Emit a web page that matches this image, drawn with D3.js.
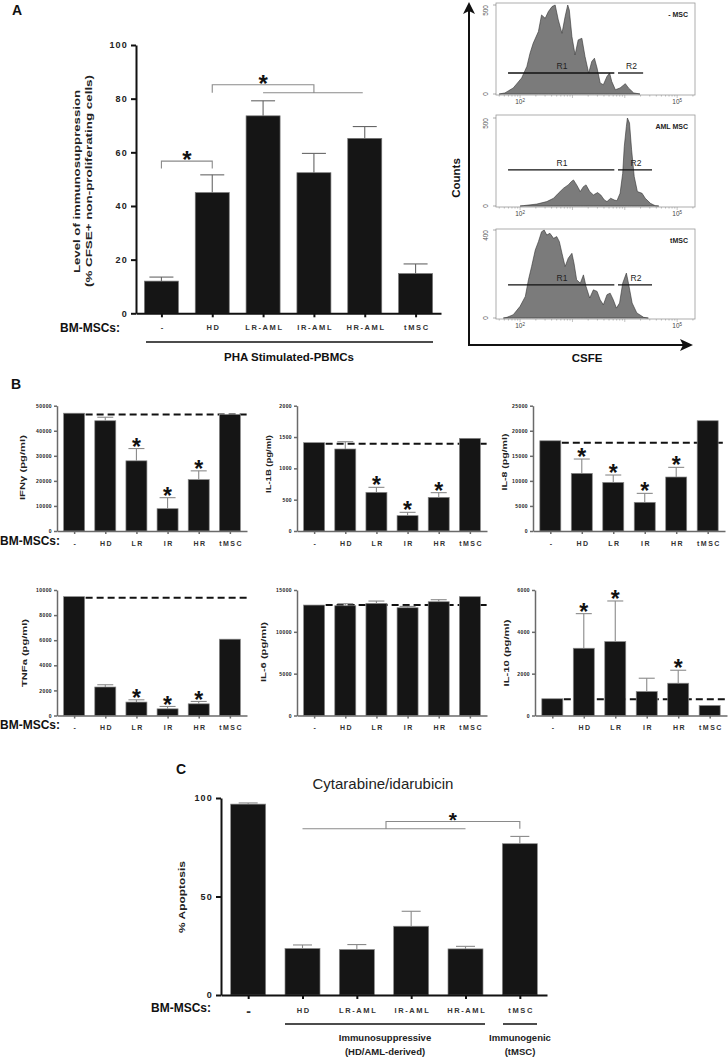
<!DOCTYPE html>
<html><head><meta charset="utf-8">
<script src="https://cdn.jsdelivr.net/npm/d3@7/dist/d3.min.js"></script>
<style>body{margin:0;background:#fff}svg{display:block}text{font-family:"Liberation Sans",Arial,sans-serif}</style>
</head><body>
<svg id="c" width="728" height="1057"></svg>
<script>
// ---------------- DATA ----------------
// Panel A
const catsA = ["-","HD","LR-AML","IR-AML","HR-AML","tMSC"];
const valsA = [12, 45, 73.6, 52.4, 65.2, 14.8];
const errA  = [13.5, 51.6, 79.2, 59.6, 69.6, 18.4];
const ticksA = [0,20,40,60,80,100];

// Flow histograms (log10 CSFE, counts)
const histNoMSC = [[1.60,0],[1.71,6],[1.87,34],[2.03,90],[2.13,155],[2.19,229],[2.25,285],[2.35,351],[2.41,444],[2.48,425],[2.54,463],[2.61,491],[2.67,500],[2.73,416],[2.80,341],[2.86,435],[2.91,500],[2.94,472],[2.99,323],[3.05,220],[3.11,304],[3.18,313],[3.24,211],[3.31,118],[3.37,183],[3.42,201],[3.47,146],[3.53,62],[3.59,52],[3.66,99],[3.71,118],[3.75,71],[3.82,24],[3.91,34],[4.01,58],[4.07,34],[4.17,6],[4.29,0]];
const histAML = [[2.0,0],[2.06,2],[2.32,11],[2.51,25],[2.64,44],[2.73,72],[2.83,101],[2.92,120],[2.98,139],[3.02,148],[3.08,120],[3.15,82],[3.21,110],[3.26,120],[3.33,82],[3.40,63],[3.48,76],[3.54,63],[3.61,34],[3.66,25],[3.73,44],[3.80,34],[3.85,30],[3.91,72],[3.96,186],[3.99,338],[4.03,452],[4.05,500],[4.09,471],[4.13,319],[4.18,167],[4.24,82],[4.33,72],[4.39,44],[4.49,15],[4.58,2],[4.65,0]];
const histTMSC = [[1.68,0],[1.75,3],[1.87,15],[2.00,53],[2.10,98],[2.16,174],[2.22,234],[2.29,309],[2.35,347],[2.41,392],[2.46,400],[2.51,377],[2.57,385],[2.64,362],[2.70,370],[2.75,347],[2.80,294],[2.86,234],[2.92,272],[2.99,294],[3.03,249],[3.08,174],[3.15,158],[3.21,196],[3.26,143],[3.33,91],[3.40,128],[3.47,121],[3.53,83],[3.59,60],[3.66,106],[3.72,113],[3.78,83],[3.84,45],[3.90,68],[3.96,158],[4.03,204],[4.07,158],[4.14,68],[4.23,23],[4.36,3],[4.45,0]];
const histNames = ["- MSC","AML MSC","tMSC"];
const histMax = [500, 500, 400];
const gateLevels = [118, 205, 151];
const gateR1 = [1.77, 3.80];
const gateR2 = [[3.87,4.35],[3.87,4.52],[3.87,4.52]];

// Panel B
const catsB = ["-","HD","LR","IR","HR","tMSC"];
const ifng    = [47000, 44000, 28000, 8900, 20500, 46500];
const ifngErr = [null, 45400, 32900, 13300, 24000, null];
const il1b    = [1410, 1309, 617, 245, 537, 1479];
const il1bErr = [null, 1425, 697, 298, 612, null];
const il8     = [18000, 11500, 9700, 5720, 10770, 22000];
const il8Err  = [null, 14360, 11170, 7510, 12700, null];
const tnfa    = [9470, 2270, 1070, 530, 930, 6080];
const tnfaErr = [null, 2450, 1250, 720, 1120, null];
const il6     = [13200, 13120, 13400, 12880, 13600, 14200];
const il6Err  = [null, 13360, 13680, 13040, 13840, null];
const il10    = [800, 3215, 3533, 1146, 1543, 477];
const il10Err = [null, 4870, 5475, 1782, 2164, null];
const refB = [46500, 1394, 17620, 9390, 13200, 780];
const starsB = [
  [0,0,1,1,1,0],[0,0,1,1,1,0],[0,1,1,1,1,0],
  [0,0,1,1,1,0],[0,0,0,0,0,0],[0,1,1,0,1,0]];
const ticksIFNg = [0,10000,20000,30000,40000,50000];
const ticksIL1b = [0,500,1000,1500,2000];
const ticksIL8  = [0,5000,10000,15000,20000,25000];
const ticksTNFa = [0,2000,4000,6000,8000,10000];
const ticksIL6  = [0,5000,10000,15000];
const ticksIL10 = [0,2000,4000,6000];

// Panel C
const catsC = ["-","HD","LR-AML","IR-AML","HR-AML","tMSC"];
const valsC = [96.9, 23.6, 23.1, 34.9, 23.4, 76.8];
const errC  = [97.5, 25.4, 25.6, 42.5, 24.7, 80.5];
const ticksC = [0,50,100];

// ---------------- DRAWING ----------------
const svg = d3.select("#c");
const F = '"Liberation Sans", Arial, sans-serif';

function txt(x, y, s, o = {}) {
  const t = svg.append("text").attr("x", x).attr("y", y).text(s)
    .attr("font-family", o.family || F).attr("font-size", o.size || 10)
    .attr("font-weight", o.weight || "bold").attr("fill", o.fill || "#111")
    .attr("text-anchor", o.anchor || "start");
  if (o.ls) t.attr("letter-spacing", o.ls);
  if (o.rot) t.attr("transform", `rotate(${o.rot},${x},${y})`);
  if (o.len) t.attr("textLength", o.len).attr("lengthAdjust", "spacingAndGlyphs");
  return t;
}
function star(x, cy, fs) {
  svg.append("text").attr("x", x).attr("y", cy + fs * 0.57).attr("text-anchor", "middle")
    .attr("font-size", fs).attr("font-weight", "bold").attr("font-family", F).attr("fill", "#111").text("*");
}

function barChart(cfg) {
  const g = svg.append("g");
  const x = d3.scalePoint().domain(cfg.cats).range([cfg.x0, cfg.x1]).padding(cfg.pad);
  const y = d3.scaleLinear().domain([0, cfg.ymax]).range([cfg.yBot, cfg.yTop]);
  if (cfg.ref != null) {
    g.append("line").attr("x1", x(cfg.cats[0]) + cfg.bw / 2 + 1).attr("x2", cfg.x1)
      .attr("y1", y(cfg.ref)).attr("y2", y(cfg.ref))
      .attr("stroke", "#111").attr("stroke-width", 2).attr("stroke-dasharray", "7,4");
  }
  g.selectAll("rect.bar").data(cfg.vals).join("rect").attr("class", "bar")
    .attr("x", (d, i) => x(cfg.cats[i]) - cfg.bw / 2).attr("width", cfg.bw)
    .attr("y", d => y(d)).attr("height", d => cfg.yBot - y(d))
    .attr("fill", "#151515").attr("stroke", cfg.barStroke || "#888").attr("stroke-width", 0.7);
  cfg.errs.forEach((e, i) => {
    if (e == null) return;
    const cx = x(cfg.cats[i]);
    g.append("line").attr("x1", cx).attr("x2", cx).attr("y1", y(cfg.vals[i])).attr("y2", y(e))
      .attr("stroke", cfg.errColor || "#888").attr("stroke-width", 1.1);
    g.append("line").attr("x1", cx - cfg.capW / 2).attr("x2", cx + cfg.capW / 2).attr("y1", y(e)).attr("y2", y(e))
      .attr("stroke", cfg.errColor || "#888").attr("stroke-width", 1.1);
  });
  if (cfg.stars) {
    cfg.stars.forEach((s, i) => {
      if (!s) return;
      const top = y(cfg.errs[i] != null ? cfg.errs[i] : cfg.vals[i]);
      star(x(cfg.cats[i]), top - cfg.starGap, cfg.starFs);
    });
  }
  const ya = g.append("g").attr("transform", `translate(${cfg.x0},0)`)
    .call(d3.axisLeft(y).tickValues(cfg.ticks).tickSize(cfg.tickLen).tickSizeOuter(0)
      .tickPadding(cfg.tickPad).tickFormat(d3.format("d")));
  ya.select(".domain").attr("stroke", cfg.axisColor).attr("stroke-width", cfg.axisW);
  ya.selectAll(".tick line").attr("stroke", cfg.axisColor).attr("stroke-width", cfg.axisW);
  ya.selectAll(".tick text").attr("font-family", F).attr("font-weight", "bold")
    .attr("font-size", cfg.tickFs).attr("letter-spacing", cfg.tickLs).attr("fill", "#222");
  const xa = g.append("g").attr("class", "xaxis").attr("transform", `translate(0,${cfg.yBot})`)
    .call(d3.axisBottom(x).tickSize(cfg.xTickLen).tickSizeOuter(0).tickPadding(cfg.xTickPad)
      .tickFormat((d, i) => cfg.labels ? cfg.labels[i] : d));
  xa.select(".domain").attr("stroke", cfg.axisColor).attr("stroke-width", cfg.axisW);
  xa.selectAll(".tick line").attr("stroke", cfg.axisColor).attr("stroke-width", cfg.axisW);
  xa.selectAll(".tick text").attr("font-family", F).attr("font-weight", "bold")
    .attr("font-size", cfg.xFs).attr("letter-spacing", cfg.xLs).attr("fill", "#333")
    .attr("dx", cfg.xLsNum / 2);
  if (cfg.ylabel) {
    txt(cfg.ylx, cfg.yly, cfg.ylabel, { size: cfg.ylFs, rot: -90, anchor: "middle", len: cfg.ylLen, fill: "#222" });
  }
  return { x, y, g, xa };
}

// Panel labels
txt(12, 15, "A", { size: 14 });
txt(11, 389, "B", { size: 14 });
txt(176, 774, "C", { size: 14 });

// ---- Panel A bar chart ----
const A = barChart({
  cats: catsA, vals: valsA, errs: errA, x0: 136, x1: 441, pad: 0.5,
  ymax: 100, yTop: 45, yBot: 313.3, bw: 34, capW: 24, errColor: "#666", barStroke: "#777",
  ticks: ticksA, tickLen: 5, tickPad: 3, tickFs: 9, tickLs: "1.2px", axisColor: "#111", axisW: 2,
  xTickLen: 4, xTickPad: 7, xFs: 7.5, xLs: "1.6px", xLsNum: 1.6
});
txt(80, 181.5, "Level of immunosuppression", { size: 9, rot: -90, anchor: "middle", len: 183, fill: "#222" });
txt(92, 181, "(% CFSE+ non-proliferating cells)", { size: 9, rot: -90, anchor: "middle", len: 212, fill: "#222" });
txt(60, 332, "BM-MSCs:", { size: 12 });
svg.append("line").attr("x1", 146).attr("x2", 433).attr("y1", 342).attr("y2", 342).attr("stroke", "#111").attr("stroke-width", 1.6);
txt(289, 361, "PHA Stimulated-PBMCs", { size: 11.5, anchor: "middle" });
(function () {
  const x = A.x, y = A.y, c = "#8a8a8a";
  const p = d3.path();
  p.moveTo(x("-"), y(54)); p.lineTo(x("-"), y(56.7)); p.lineTo(x("HD"), y(56.7)); p.lineTo(x("HD"), y(54));
  p.moveTo(x("HD"), y(82.2)); p.lineTo(x("HD"), y(85.2)); p.lineTo(x("IR-AML"), y(85.2)); p.lineTo(x("IR-AML"), y(82.2));
  p.moveTo(x("LR-AML"), y(82.2)); p.lineTo(x("HR-AML") - 2, y(82.2));
  svg.append("path").attr("d", p.toString()).attr("fill", "none").attr("stroke", c).attr("stroke-width", 1.1);
  star((x("-") + x("HD")) / 2, y(59.4), 24);
  star(x("LR-AML"), y(87.6), 24);
})();

// ---- Flow histograms ----
const flowX = d3.scaleLinear().domain([1.54, 5.36]).range([496, 696]);
const histBoxes = [[3, 95, 94, 5], [115, 207, 206, 118], [229, 319, 318, 230]]; // top,bottom,base,peak
[histNoMSC, histAML, histTMSC].forEach((pts, k) => {
  const [top, bot, base, peak] = histBoxes[k];
  const y = d3.scaleLinear().domain([0, histMax[k]]).range([base, peak]);
  const g = svg.append("g");
  g.append("rect").attr("x", 496).attr("y", top).attr("width", 199).attr("height", bot - top)
    .attr("fill", "none").attr("stroke", "#9a9a9a").attr("stroke-width", 0.8);
  const area = d3.area().x(d => flowX(d[0])).y0(y(0)).y1(d => y(d[1]));
  g.append("path").datum(pts).attr("d", area).attr("fill", "#7b7b7b").attr("stroke", "#333").attr("stroke-width", 0.6);
  [0, histMax[k]].forEach(v => {
    g.append("line").attr("x1", 493).attr("x2", 496).attr("y1", y(v)).attr("y2", y(v)).attr("stroke", "#777").attr("stroke-width", 0.6);
    g.append("text").attr("x", 488).attr("y", y(v)).attr("transform", `rotate(-90,488,${y(v)})`)
      .attr("text-anchor", v === 0 ? "middle" : "end").attr("font-size", 6.5).attr("fill", "#555")
      .attr("font-family", F).text(v);
  });
  const minors = [];
  for (let n = 1; n <= 5; n++) for (let m = 1; m <= 9; m++) { const v = n + Math.log10(m); if (v >= 1.56 && v <= 5.34) minors.push(v); }
  g.selectAll("line.mt").data(minors).join("line").attr("x1", d => flowX(d)).attr("x2", d => flowX(d))
    .attr("y1", bot).attr("y2", d => bot + (Math.abs(d - Math.round(d)) < 1e-9 ? 3 : 1.6)).attr("stroke", "#888").attr("stroke-width", 0.5);
  [2, 5].forEach(e => {
    const t = g.append("text").attr("x", flowX(e)).attr("y", bot + 9).attr("text-anchor", "middle")
      .attr("font-size", 6.5).attr("fill", "#444").attr("font-family", F);
    t.append("tspan").text("10");
    t.append("tspan").attr("dy", -2.5).attr("font-size", 4.5).text(e);
  });
  const gy = y(gateLevels[k]);
  g.append("line").attr("x1", flowX(gateR1[0])).attr("x2", flowX(gateR1[1])).attr("y1", gy).attr("y2", gy).attr("stroke", "#111").attr("stroke-width", 1.3);
  g.append("line").attr("x1", flowX(gateR2[k][0])).attr("x2", flowX(gateR2[k][1])).attr("y1", gy).attr("y2", gy).attr("stroke", "#111").attr("stroke-width", 1.3);
  g.append("text").attr("x", flowX(2.80)).attr("y", gy - 3.5).attr("text-anchor", "middle").attr("font-size", 8.5)
    .attr("font-family", '"Open Sans", sans-serif').attr("fill", "#222").text("R1");
  g.append("text").attr("x", (flowX(gateR2[k][0]) + flowX(gateR2[k][1])) / 2 + 1).attr("y", gy - 3.5).attr("text-anchor", "middle").attr("font-size", 8.5)
    .attr("font-family", '"Open Sans", sans-serif').attr("fill", "#222").text("R2");
  g.append("text").attr("x", 688).attr("y", top + 14).attr("text-anchor", "end").attr("font-size", 7)
    .attr("font-weight", "bold").attr("font-family", '"Open Sans", sans-serif').attr("fill", "#222").text(histNames[k]);
});
svg.append("line").attr("x1", 469).attr("x2", 469).attr("y1", 346).attr("y2", 10).attr("stroke", "#111").attr("stroke-width", 2);
svg.append("path").attr("d", "M469,2 L463,14 L469,11 L475,14 Z").attr("fill", "#111");
svg.append("line").attr("x1", 468).attr("x2", 684).attr("y1", 345).attr("y2", 345).attr("stroke", "#111").attr("stroke-width", 2);
svg.append("path").attr("d", "M693,345 L680,339 L683,345 L680,351 Z").attr("fill", "#111");
txt(460, 178, "Counts", { size: 11.5, rot: -90, anchor: "middle" });
txt(587, 362, "CSFE", { size: 11.5, anchor: "middle" });

// ---- Panel B ----
const bCommon = {
  cats: catsB, labels: catsB, pad: 0.55, bw: 21, capW: 16, barStroke: "#888", errColor: "#8a8a8a",
  tickLen: 3, tickPad: 2, tickFs: 5, tickLs: "0.4px", axisColor: "#6a6a6a", axisW: 1.5,
  xTickLen: 3, xTickPad: 7, xFs: 7, xLs: "1.5px", xLsNum: 1.5, starFs: 23, starGap: 7, ylFs: 7.5
};
const row1 = { yTop: 405.7, yBot: 531 }, row2 = { yTop: 590, yBot: 715.5 };
barChart(Object.assign({}, bCommon, row1, { vals: ifng, errs: ifngErr, ref: refB[0], stars: starsB[0], ymax: 50000, ticks: ticksIFNg, x0: 57, x1: 247, ylabel: "IFNγ (pg/ml)", ylx: 25, yly: 467.5, ylLen: 65 }));
barChart(Object.assign({}, bCommon, row1, { vals: il1b, errs: il1bErr, ref: refB[1], stars: starsB[1], ymax: 2000, ticks: ticksIL1b, x0: 297, x1: 487, ylabel: "IL-1B (pg/ml)", ylx: 271, yly: 464, ylLen: 58 }));
barChart(Object.assign({}, bCommon, row1, { vals: il8, errs: il8Err, ref: refB[2], stars: starsB[2], ymax: 25000, ticks: ticksIL8, x0: 533, x1: 725, ylabel: "IL-8 (pg/ml)", ylx: 507, yly: 462, ylLen: 57 }));
barChart(Object.assign({}, bCommon, row2, { vals: tnfa, errs: tnfaErr, ref: refB[3], stars: starsB[3], ymax: 10000, ticks: ticksTNFa, x0: 57, x1: 247, ylabel: "TNFa (pg/ml)", ylx: 27, yly: 653, ylLen: 68 }));
barChart(Object.assign({}, bCommon, row2, { vals: il6, errs: il6Err, ref: refB[4], stars: starsB[4], ymax: 15000, ticks: ticksIL6, x0: 297, x1: 487, ylabel: "IL-6 (pg/ml)", ylx: 266, yly: 652, ylLen: 60 }));
barChart(Object.assign({}, bCommon, row2, { vals: il10, errs: il10Err, ref: refB[5], stars: starsB[5], ymax: 6000, ticks: ticksIL10, x0: 535, x1: 727, ylabel: "IL-10 (pg/ml)", ylx: 509, yly: 653, ylLen: 67 }));
txt(0, 545, "BM-MSCs:", { size: 12 });
txt(0, 729, "BM-MSCs:", { size: 12 });

// ---- Panel C ----
txt(383, 789, "Cytarabine/idarubicin", { size: 15, weight: "normal", anchor: "middle", fill: "#222" });
const C = barChart({
  cats: catsC, labels: ["-","HD","LR-AML","IR-AML","HR-AML","tMSC"], vals: valsC, errs: errC, x0: 221, x1: 547, pad: 0.5,
  ymax: 100, yTop: 798, yBot: 995, bw: 35, capW: 19, barStroke: "#888", errColor: "#8a8a8a",
  ticks: ticksC, tickLen: 5, tickPad: 3, tickFs: 9, tickLs: "1.2px", axisColor: "#111", axisW: 2,
  xTickLen: 4, xTickPad: 9, xFs: 7.5, xLs: "1.6px", xLsNum: 1.6,
  ylabel: "% Apoptosis", ylx: 185, yly: 897, ylFs: 9.5, ylLen: 72
});
C.xa.selectAll(".tick text").filter((d, i) => i === 0).attr("font-size", 14).attr("dy", "0.55em");
txt(151, 1012, "BM-MSCs:", { size: 12 });
svg.append("line").attr("x1", 285).attr("x2", 485).attr("y1", 1024).attr("y2", 1024).attr("stroke", "#111").attr("stroke-width", 1.6);
svg.append("line").attr("x1", 503).attr("x2", 537).attr("y1", 1024).attr("y2", 1024).attr("stroke", "#111").attr("stroke-width", 1.6);
const OS = '"Open Sans", sans-serif';
txt(385, 1041, "Immunosuppressive", { size: 9.5, family: OS, anchor: "middle", fill: "#222" });
txt(385, 1055, "(HD/AML-derived)", { size: 9.5, family: OS, anchor: "middle", fill: "#222" });
txt(520, 1041, "Immunogenic", { size: 9.5, family: OS, anchor: "middle", fill: "#222" });
txt(520, 1055, "(tMSC)", { size: 9.5, family: OS, anchor: "middle", fill: "#222" });
(function () {
  const x = C.x, y = C.y, c = "#8a8a8a";
  const p = d3.path();
  p.moveTo(x("HD"), y(84.4)); p.lineTo(x("HR-AML"), y(84.4));
  const mid = (x("LR-AML") + x("IR-AML")) / 2 + 2;
  p.moveTo(mid, y(84.4)); p.lineTo(mid, y(88.1)); p.lineTo(x("tMSC"), y(88.1)); p.lineTo(x("tMSC"), y(84.4));
  svg.append("path").attr("d", p.toString()).attr("fill", "none").attr("stroke", c).attr("stroke-width", 1.1);
  star((mid + x("tMSC")) / 2, y(91.5), 21);
})();
</script>
</body></html>
